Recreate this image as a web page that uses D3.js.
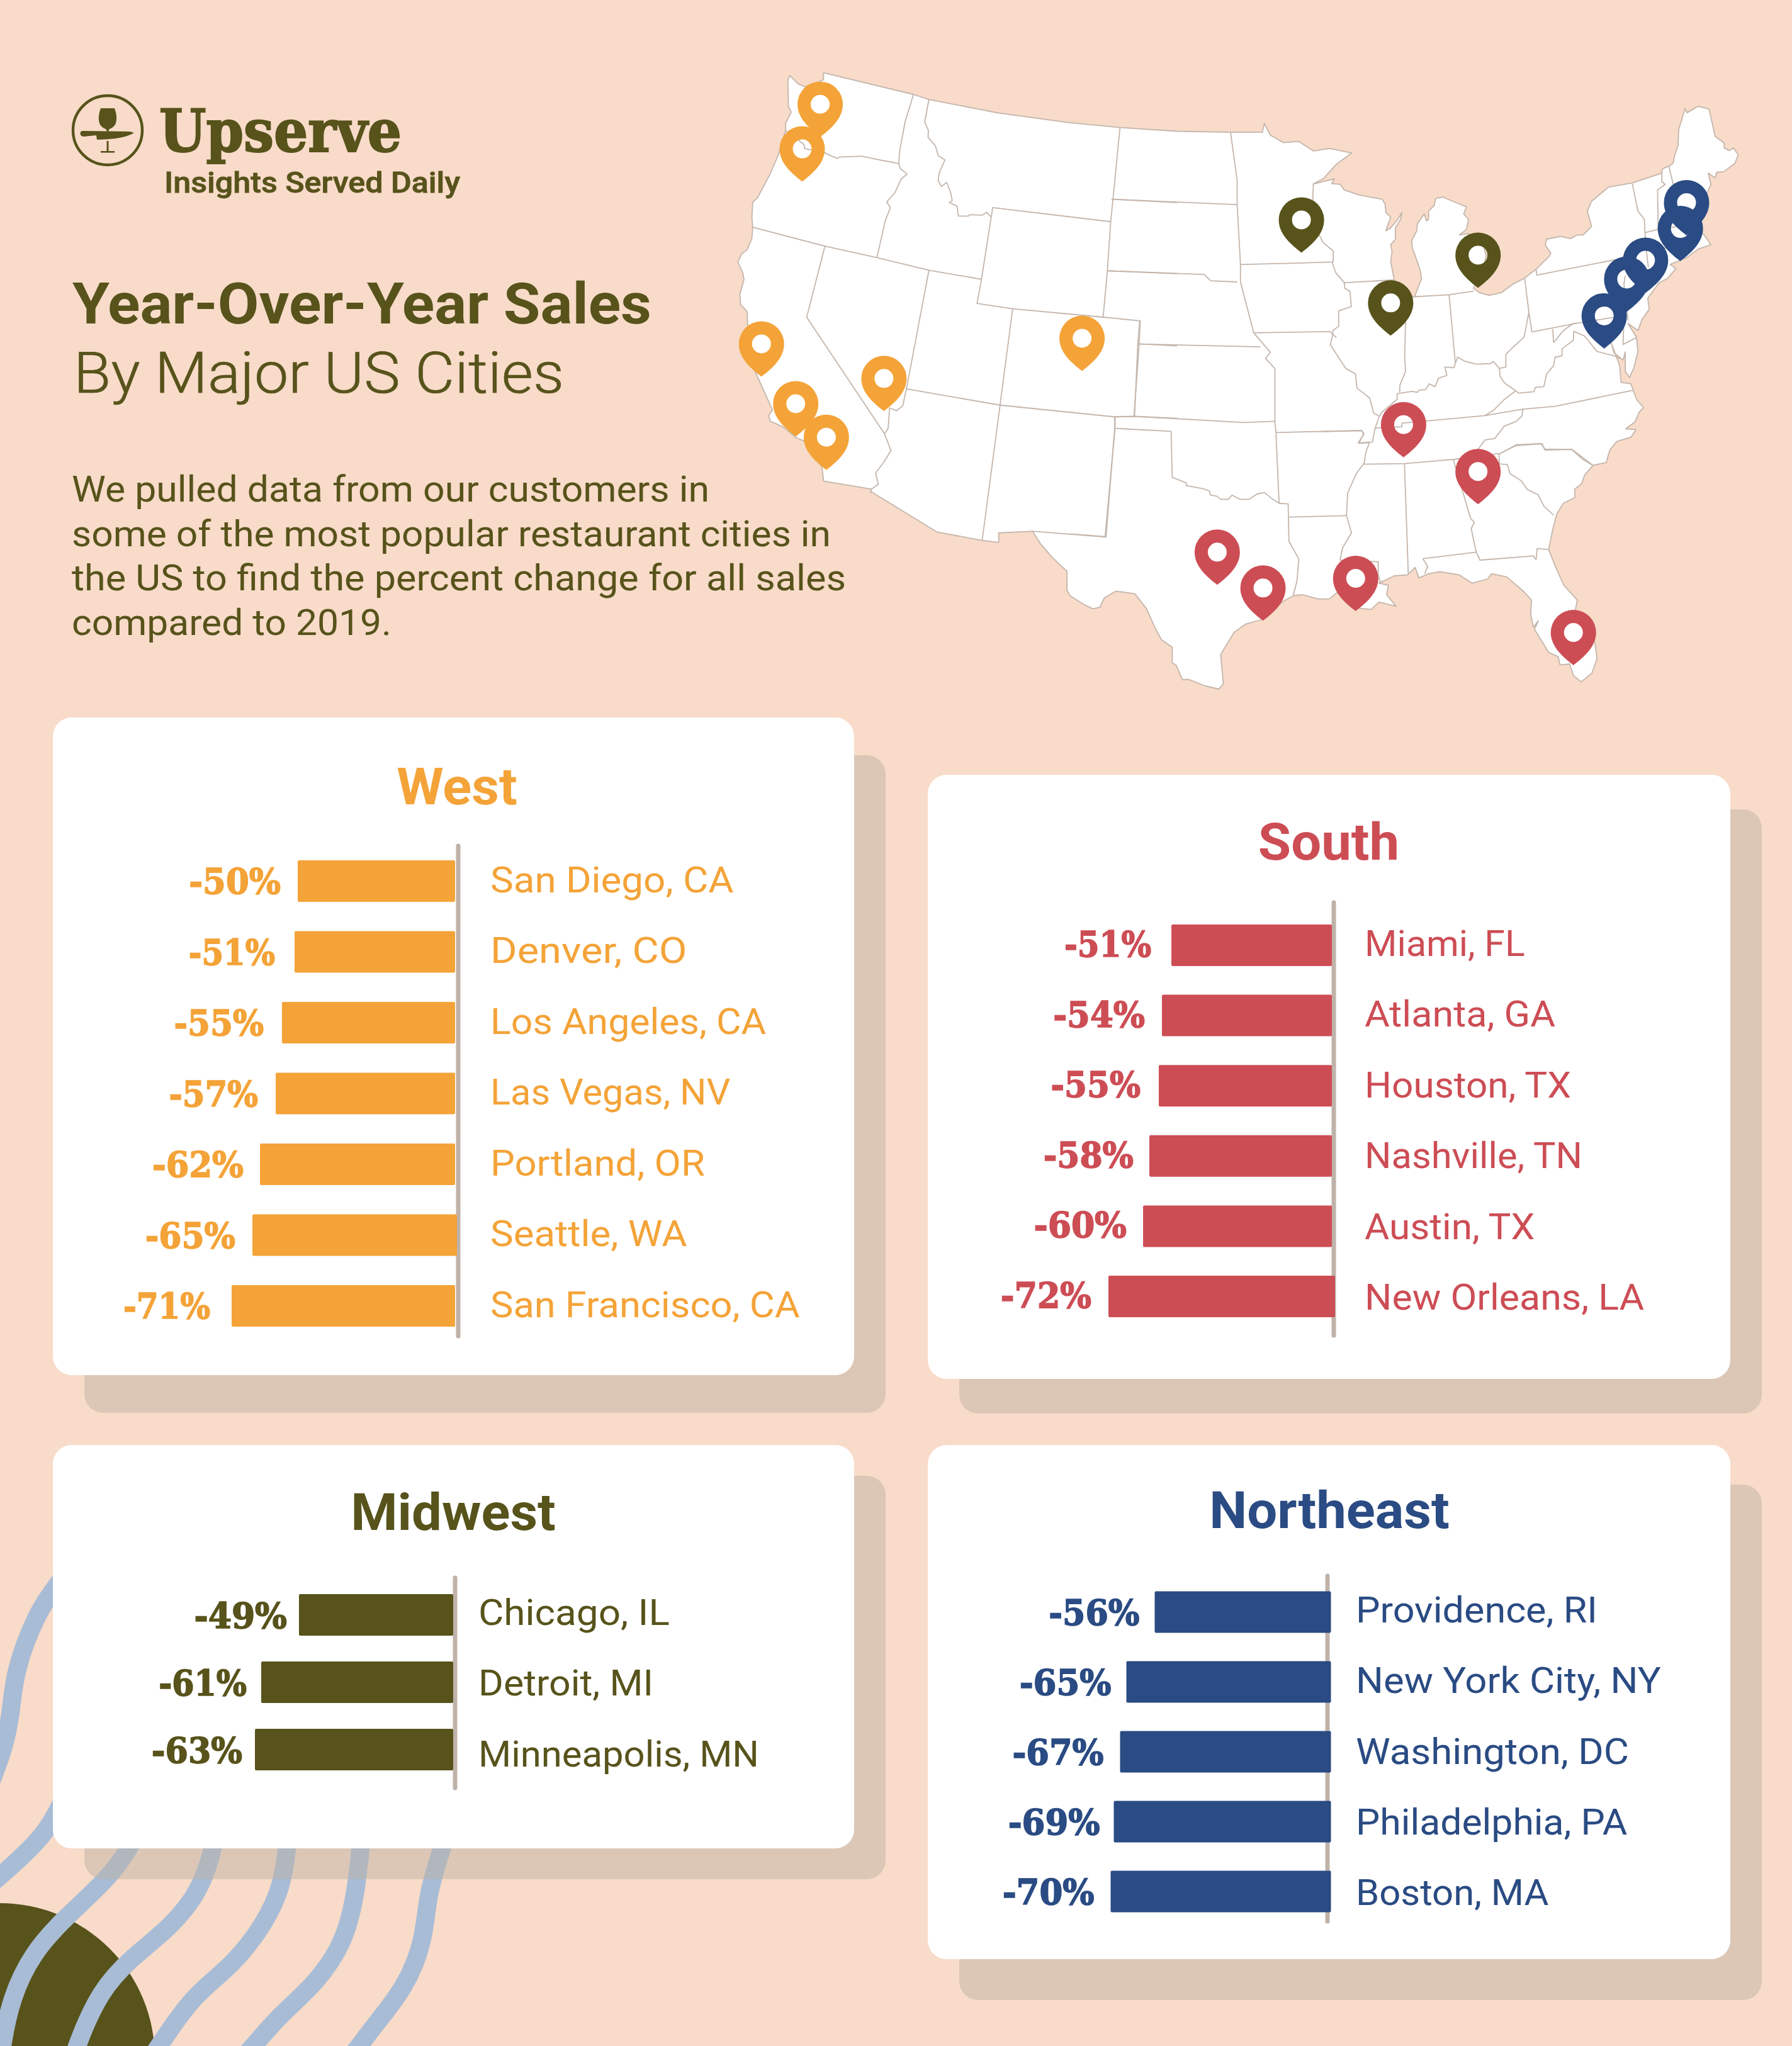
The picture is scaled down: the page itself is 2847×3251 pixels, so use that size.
<!DOCTYPE html>
<html>
<head>
<meta charset="utf-8">
<title>Year-Over-Year Sales</title>
<script src="https://cdnjs.cloudflare.com/ajax/libs/d3/7.8.5/d3.min.js"></script>
<style>
  html, body { margin: 0; padding: 0; background: #f8dbc9; }
  svg { display: block; }
  text { font-family: Roboto, sans-serif; }
  .pct { font-family: "DejaVu Serif Condensed", "DejaVu Serif", serif; font-weight: 700; }
</style>
</head>
<body>
<svg id="chart" width="2847" height="3251"></svg>
<script>
// values
var westCities = ['San Diego, CA', 'Denver, CO', 'Los Angeles, CA', 'Las Vegas, NV', 'Portland, OR', 'Seattle, WA', 'San Francisco, CA'];
var westValues = [-50, -51, -55, -57, -62, -65, -71];
var southCities = ['Miami, FL', 'Atlanta, GA', 'Houston, TX', 'Nashville, TN', 'Austin, TX', 'New Orleans, LA'];
var southValues = [-51, -54, -55, -58, -60, -72];
var midwestCities = ['Chicago, IL', 'Detroit, MI', 'Minneapolis, MN'];
var midwestValues = [-49, -61, -63];
var northeastCities = ['Providence, RI', 'New York City, NY', 'Washington, DC', 'Philadelphia, PA', 'Boston, MA'];
var northeastValues = [-56, -65, -67, -69, -70];

var introLines = [
  'We pulled data from our customers in',
  'some of the most popular restaurant cities in',
  'the US to find the percent change for all sales',
  'compared to 2019.'
];

// pins, in draw order: [region, traced sheet, x, y of the hole]
var pinPlaces = [
  ['West', 'W', 298, 147], ['West', 'W', 234, 306], ['West', 'W', 89, 1000], ['West', 'W', 525, 1123],
  ['West', 'W', 211, 1213], ['West', 'W', 320, 1332], ['West', 'W', 1230, 980],
  ['Midwest', 'M', 872, 395], ['Midwest', 'E', 245, 787], ['Midwest', 'E', 556, 617],
  ['South', 'E', 291, 1220], ['South', 'E', 556, 1387], ['South', 'S', 386, 682], ['South', 'S', 506, 853],
  ['South', 'S', 749, 807], ['South', 'S', 1320, 1065],
  ['Northeast', 'E', 1298, 430], ['Northeast', 'E', 1276, 522], ['Northeast', 'E', 1152, 635],
  ['Northeast', 'E', 1085, 702], ['Northeast', 'E', 1005, 833]
];

// map outline, traced piece by piece
var coast = [
  ['W', [[310,35],[630,112],[685,130],[930,178],[1180,212],[1365,230],[1568,243]]],
  ['M', [[765,183],[813,183],[816,162],[825,190],[845,208],[868,205],[890,228],[915,222],[948,233],[925,260],[905,295],[890,308]]],
  ['E', [[45,345],[35,362],[65,365],[80,385],[130,402],[180,412],[215,418],[225,435],[228,465],[245,482],[228,530],[245,520],[270,490],[285,465],[280,490],[262,520],[262,560],[245,580],[250,605],[245,640],[258,705],[270,750],[300,765],[330,765],[355,700],[350,670],[322,590],[320,565],[338,530],[340,505],[365,470],[372,495],[380,490],[380,460],[400,440],[405,415],[430,410],[465,425],[515,445],[505,470],[522,490],[515,525],[490,545],[520,540],[570,560],[585,620],[570,680],[540,735],[560,750],[595,760],[640,750],[680,720],[720,700],[765,665],[810,620],[815,610],[795,580],[800,560],[850,550],[885,558],[910,545],[930,545],[960,515],[945,460],[960,425],[1020,375],[1105,360],[1210,325],[1212,310],[1235,300],[1250,290],[1255,265],[1268,225],[1270,170],[1293,95],[1300,110],[1340,87],[1378,97],[1400,195],[1432,218],[1432,235],[1450,245],[1465,235],[1482,260],[1470,290],[1430,320],[1405,322],[1400,342],[1375,325],[1385,365],[1350,440],[1340,520],[1360,545],[1385,580],[1340,595],[1300,625],[1240,650],[1260,665],[1230,700],[1200,715],[1160,770],[1165,810],[1140,845],[1125,885],[1090,860],[1120,910],[1125,960],[1110,1020],[1095,1052],[1080,1030],[1080,962],[1072,990],[1040,965],[1030,930],[1060,1010],[1065,1070],[1100,1075],[1120,1130],[1145,1160],[1130,1175],[1115,1210],[1082,1235],[1118,1238],[1100,1265],[1050,1280],[1025,1310],[1012,1355],[965,1365],[935,1400],[925,1430],[900,1450],[900,1480],[860,1500],[835,1540]]],
  ['S', [[1275,510],[1265,580],[1255,670],[1275,760],[1295,840],[1330,910],[1325,960],[1375,1100],[1382,1190],[1368,1260],[1340,1300],[1320,1270],[1310,1215],[1285,1220],[1280,1180],[1255,1160],[1218,1050],[1228,1010],[1215,1040],[1208,980],[1210,910],[1190,870],[1145,800],[1105,785],[1095,810],[1055,830],[1020,790],[970,775],[940,785],[915,805],[905,755],[885,790],[850,795],[810,830],[835,840],[830,885],[855,940],[810,920],[790,955],[760,950],[700,875],[680,905],[650,905],[610,885],[585,890],[560,915],[500,1005],[460,1025],[430,1065],[395,1170],[402,1310],[390,1335],[355,1320],[310,1288],[295,1290],[278,1220],[268,1210],[268,1135],[240,1100],[225,1050],[200,950],[170,880],[120,868],[90,900],[78,945],[60,952],[40,935],[0,890]]],
  ['M', [[518,1290],[518,1245],[495,1210],[478,1178],[466,1148],[415,1152],[415,1175],[390,1170],[322,1150],[222,1052]]],
  ['W', [[478,1530],[480,1517],[310,1488],[305,1440],[240,1345],[215,1335],[165,1295],[120,1275],[115,1255],[128,1235],[90,1150],[65,1095],[40,935],[38,885],[15,860],[12,825],[27,770],[22,745],[5,710],[18,680],[38,665],[55,625],[58,585],[55,550],[58,495],[75,480],[120,395],[150,325],[175,240],[175,215],[195,175],[185,155],[183,60],[190,45],[220,75],[245,85],[310,60]]]
];

var stateLines = [
  ['W', [[175,240],[240,290],[243,305],[315,320],[335,330],[360,340],[365,335],[445,332],[510,345],[578,358]]],
  ['W', [[630,112],[600,210],[580,320],[578,358],[582,375],[607,395],[585,415],[565,460],[535,495],[548,515],[530,560],[500,693]]],
  ['W', [[685,130],[670,210],[683,240],[682,265],[708,295],[718,330],[742,345],[722,390],[718,420],[730,440],[748,425],[762,460],[768,490],[758,497],[785,510],[790,545],[825,545],[830,540],[875,542],[890,532],[905,547]]],
  ['W', [[1365,230],[1340,485],[1332,565],[1320,740],[1305,905]]],
  ['W', [[1332,565],[912,515],[872,770],[856,856],[983,875],[1305,905],[1437,918],[1433,1000],[1415,1258]]],
  ['W', [[58,585],[315,652],[500,693],[685,738],[872,770]]],
  ['W', [[315,652],[250,905],[527,1320],[550,1380],[525,1420],[495,1460],[505,1500],[480,1517]]],
  ['W', [[527,1320],[540,1300],[545,1228],[570,1238],[592,1220],[605,1160],[685,738]]],
  ['W', [[605,1160],[938,1218],[1348,1260],[1415,1258],[1568,1265]]],
  ['W', [[983,875],[938,1218]]],
  ['W', [[1340,485],[1568,497]]],
  ['W', [[1320,740],[1568,750]]],
  ['W', [[1433,1000],[1568,1007]]],
  ['M', [[417,843],[390,1170]]],
  ['M', [[590,871],[590,900],[577,1162],[466,1148]]],
  ['M', [[590,871],[620,870],[785,885],[832,882]]],
  ['M', [[628,638],[625,695],[620,870]]],
  ['M', [[625,695],[810,702]]],
  ['M', [[585,345],[775,358]]],
  ['M', [[580,518],[725,527],[735,542],[775,545]]],
  ['M', [[765,183],[775,300],[775,358],[780,503],[780,545],[800,668],[825,715],[818,730],[832,755],[832,882]]],
  ['M', [[800,668],[915,665],[925,680]]],
  ['M', [[780,503],[920,497]]],
  ['M', [[890,308],[888,400],[905,450],[920,470],[920,497]]],
  ['S', [[118,38],[118,92],[92,608],[0,595]]],
  ['S', [[118,92],[265,106],[268,325],[305,352],[305,365],[350,380],[365,390],[368,410],[385,415],[395,430],[415,430],[425,410],[445,430],[470,430],[490,405],[510,398],[530,428],[550,450],[572,452],[574,630],[600,715],[595,820],[585,890]]],
  ['S', [[537,57],[540,112],[548,440],[550,450]]],
  ['S', [[540,112],[765,102],[770,120],[757,163],[785,160]]],
  ['S', [[573,515],[725,508]]],
  ['S', [[785,160],[775,210],[772,255],[768,265],[750,310],[728,400],[725,508],[738,590],[715,660],[708,720],[808,728],[808,790],[815,830]]],
  ['S', [[770,263],[877,260],[1005,240],[1125,212]]],
  ['S', [[877,260],[887,790]]],
  ['S', [[1005,240],[1050,520],[1060,540],[1052,570],[1065,682],[1075,720],[1215,700],[1222,718],[1225,665],[1255,670]]],
  ['S', [[925,713],[1065,682]]],
  ['S', [[925,713],[938,750],[930,785]]],
  ['S', [[1125,215],[1170,170],[1238,165],[1245,195],[1315,192],[1345,240],[1370,268]]],
  ['E', [[630,1325],[632,1360],[660,1362],[670,1395],[710,1420],[730,1450],[770,1470],[790,1510],[825,1542]]],
  ['E', [[715,1165],[712,1190],[690,1210],[650,1225],[615,1270],[580,1275],[555,1310],[530,1338]]],
  ['E', [[0,1245],[140,1242],[150,1252],[130,1285],[180,1282],[190,1232],[285,1228],[285,1215],[580,1188],[715,1165],[830,1155],[1108,1098]]],
  ['E', [[37,643],[50,680],[80,715],[82,735],[100,745],[105,800],[60,815],[60,870],[40,885],[37,910],[30,935],[85,1020],[120,1040],[125,1090],[170,1125],[185,1180],[205,1190],[190,1232]]],
  ['E', [[80,715],[258,705]]],
  ['E', [[300,765],[295,980],[298,1030],[278,1080],[277,1105]]],
  ['E', [[330,765],[453,758],[540,745]]],
  ['E', [[453,758],[475,1000]]],
  ['E', [[205,1190],[215,1175],[268,1130],[268,1110],[320,1102],[340,1105],[345,1098],[370,1095],[382,1075],[403,1085],[415,1055],[445,1045],[438,1015],[470,1018],[483,980],[510,995],[550,1005],[600,1003],[610,995],[632,1020],[635,1050],[650,1072],[690,1100],[650,1130],[610,1170],[580,1188]]],
  ['E', [[632,1020],[655,1015],[655,970],[675,950],[720,908],[737,820]]],
  ['E', [[722,700],[737,820],[748,890],[905,860],[1040,838],[1075,850],[1072,935],[1120,910]]],
  ['E', [[822,880],[825,928],[860,885],[895,860],[905,860]]],
  ['E', [[690,1100],[700,1108],[755,1103],[760,1088],[790,1085],[800,1040],[825,1010],[830,980],[855,975],[855,950],[895,920],[897,888],[935,905],[980,960],[1040,975],[1060,985]]],
  ['E', [[762,665],[765,688],[1060,630],[1160,670]]],
  ['E', [[1080,690],[1075,720],[1090,850]]],
  ['E', [[1105,362],[1125,460],[1148,490],[1150,537],[1155,600],[1162,660]]],
  ['E', [[1210,325],[1210,355],[1222,365],[1195,385],[1197,525]]],
  ['E', [[1235,300],[1252,370],[1270,515]]],
  ['E', [[1150,537],[1197,525],[1340,505]]],
  ['E', [[1155,600],[1240,590]]],
  ['E', [[630,1325],[690,1295],[780,1288],[795,1308],[890,1308],[965,1365]]]
];

// ribbons in the lower left corner
var ribbons = [
  [[300,60],[165,235],[115,300],[45,470],[35,590],[15,690],[-30,800]],
  [[260,720],[165,915],[110,975],[50,1030],[-60,1120]],
  [[470,860],[405,990],[335,1080],[197,1197],[102,1295],[35,1425],[5,1568],[-5,1660]],
  [[690,860],[665,990],[625,1110],[535,1218],[408,1310],[312,1405],[237,1568],[210,1660]],
  [[905,860],[895,990],[878,1100],[825,1210],[722,1335],[600,1420],[495,1568],[430,1660]],
  [[1135,860],[1123,990],[1108,1120],[1075,1260],[985,1385],[870,1478],[790,1568],[700,1660]],
  [[1420,860],[1376,990],[1330,1125],[1322,1255],[1265,1395],[1155,1520],[1120,1568],[1040,1660]]
];

var colors = { West: '#f4a338', South: '#cd4d55', Midwest: '#57531b', Northeast: '#2a4b83' };

var sheets = {
  W: { x: d3.scaleLinear([0, 1568], [1170, 1870]), y: d3.scaleLinear([0, 1568], [100, 800]) },
  E: { x: d3.scaleLinear([0, 1568], [2100, 2800]), y: d3.scaleLinear([0, 1568], [130, 830]) },
  S: { x: d3.scaleLinear([0, 1568], [1700, 2650]), y: d3.scaleLinear([0, 1410], [650, 1120]) },
  M: { x: d3.scaleLinear([0, 1568], [1150, 2800]), y: d3.scaleLinear([0, 1568], [90, 1120]) },
  Z: { x: d3.scaleLinear([0, 1568], [0, 800]), y: d3.scaleLinear([0, 1568], [2400, 3251]) }
};

function toPixels(sheet, pts) {
  return pts.map(function(p) { return [sheets[sheet].x(p[0]), sheets[sheet].y(p[1])]; });
}

var svg = d3.select('#chart');
var ink = colors.Midwest;

svg.append('rect').attr('width', 2847).attr('height', 3251).attr('fill', '#f8dbc9');

// olive half disc and ribbons
svg.append('circle').attr('cx', 0).attr('cy', 3270).attr('r', 246).attr('fill', ink);

var ribbonLine = d3.line().curve(d3.curveBasis);
svg.selectAll('.ribbon').data(ribbons).enter().append('path')
  .attr('class', 'ribbon')
  .attr('d', function(d) { return ribbonLine(toPixels('Z', d)); })
  .attr('fill', 'none')
  .attr('stroke', '#a8bcd6')
  .attr('stroke-width', 29);

// map
var outline = [];
coast.forEach(function(c) { outline = outline.concat(toPixels(c[0], c[1])); });
var mapLine = d3.line();
var mapG = svg.append('g');
mapG.append('path')
  .attr('d', mapLine(outline) + 'Z')
  .attr('fill', '#fff').attr('stroke', '#c4b6ac').attr('stroke-width', 1.8).attr('stroke-linejoin', 'round');
mapG.selectAll('.state').data(stateLines).enter().append('path')
  .attr('class', 'state')
  .attr('d', function(d) { return mapLine(toPixels(d[0], d[1])); })
  .attr('fill', 'none').attr('stroke', '#c4b6ac').attr('stroke-width', 1.8).attr('stroke-linejoin', 'round');

// real cut-out hole: the map shows through the pin
var pinPath = 'M-36,0A36,36 0 0 1 36,0C36,22 18,38 0,52C-18,38 -36,22 -36,0Z' +
  'M-15,0A15,15 0 1 0 15,0A15,15 0 1 0 -15,0Z';
svg.selectAll('.pin').data(pinPlaces).enter().append('path')
  .attr('class', 'pin')
  .attr('d', pinPath)
  .attr('fill-rule', 'evenodd')
  .attr('fill', function(d) { return colors[d[0]]; })
  .attr('transform', function(d) {
    return 'translate(' + sheets[d[1]].x(d[2]) + ',' + sheets[d[1]].y(d[3]) + ')';
  });

// logo
var logo = svg.append('g').attr('transform', 'translate(171,207)').attr('fill', ink);
logo.append('circle').attr('r', 55).attr('fill', 'none').attr('stroke', ink).attr('stroke-width', 4.4);
logo.append('path').attr('d', 'M-11,-35L11,-35C15,-24 15,-15 12,-9C9,-4 4,-3 2,-1L1.5,2L-1.5,2L-2,-1C-4,-3 -9,-4 -12,-9C-15,-15 -15,-24 -11,-35Z');
logo.append('path').attr('d', 'M-40,1L35,2L42,4C30,11 16,14 -17,15L-18,8L-38,10C-45,10 -45,1 -40,1Z');
logo.append('rect').attr('x', -1.5).attr('y', 17).attr('width', 3).attr('height', 17);
logo.append('rect').attr('x', -11).attr('y', 33).attr('width', 22).attr('height', 2.6);

function headline(str, x, y, size, weight, width, family, thicken) {
  var t = svg.append('text').text(str)
    .attr('x', x).attr('y', y)
    .attr('font-size', size).attr('font-weight', weight)
    .attr('fill', ink);
  if (family) t.attr('class', family);
  if (width) t.attr('textLength', width).attr('lengthAdjust', 'spacingAndGlyphs');
  if (thicken) t.attr('stroke', ink).attr('stroke-width', thicken);
  return t;
}

headline('Upserve', 253, 241, 94, 700, 385, 'pct', 2);
headline('Insights Served Daily', 261, 306, 46, 500, 470, null, 0.8);
headline('Year-Over-Year Sales', 115, 514, 90, 700, 920);
headline('By Major US Cities', 117, 624, 90, 300, 779, null, 0.7);

var introWidths = [1013, 1206, 1230, 508];
introLines.forEach(function(line, i) {
  headline(line, 114, 797 + i * 70.7, 58, 400, introWidths[i]);
});

var cards = [
  { name: 'West', cities: westCities, values: westValues,
    box: [84, 1140, 1273, 1045], shadow: [134, 1200, 1273, 1045],
    titleX: 726, titleY: 1278, axisX: 728, axisY: [1344, 2123],
    barRight: 723, barTop: 1367, barStep: 112.5, labelX: 779, labelY: [1418, 2092.5], pctDy: 20,
    nudge: { 'Seattle, WA': 3 },
    cityW: [443, 357, 503, 437, 390, 357, 565], pctW: [167, 157, 163, 162, 166, 164, 158], pctGap: [27, 31, 29, 28, 26, 27, 34] },
  { name: 'South', cities: southCities, values: southValues,
    box: [1474, 1231, 1275, 960], shadow: [1524, 1286, 1275, 960],
    titleX: 2111, titleY: 1366, axisX: 2119, axisY: [1434, 2122],
    barRight: 2116, barTop: 1469, barStep: 111.6, labelX: 2168, labelY: [1519, 2081], pctDy: 18,
    nudge: { 'New Orleans, LA': 5 },
    cityW: [290, 346, 375, 396, 308, 510], pctW: [158, 167, 163, 164, 169, 165], pctGap: [32, 27, 29, 25, 26, 27] },
  { name: 'Midwest', cities: midwestCities, values: midwestValues,
    box: [84, 2296, 1273, 641], shadow: [134, 2345, 1273, 641],
    titleX: 720, titleY: 2431, axisX: 723, axisY: [2507, 2841],
    barRight: 720, barTop: 2533, barStep: 107, labelX: 760, labelY: [2581.5, 2807], pctDy: 21,
    nudge: {},
    cityW: [347, 317, 512], pctW: [169, 160, 165], pctGap: [19, 23, 20] },
  { name: 'Northeast', cities: northeastCities, values: northeastValues,
    box: [1474, 2296, 1275, 817], shadow: [1524, 2359, 1275, 819],
    titleX: 2112, titleY: 2428, axisX: 2109, axisY: [2504, 3053],
    barRight: 2114.5, barTop: 2528.5, barStep: 111, labelX: 2154, labelY: [2578, 3027], pctDy: 20,
    nudge: {},
    cityW: [440, 557, 498, 495, 350], pctW: [165, 167, 166, 167, 167], pctGap: [24, 24, 26, 22, 26] }
];

cards.forEach(function(c) {
  var color = colors[c.name];
  var g = svg.append('g').attr('class', 'card');

  g.append('rect')
    .attr('x', c.shadow[0]).attr('y', c.shadow[1]).attr('width', c.shadow[2]).attr('height', c.shadow[3])
    .attr('rx', 30).attr('fill', '#bdb0a4').attr('fill-opacity', 0.475);
  g.append('rect')
    .attr('x', c.box[0]).attr('y', c.box[1]).attr('width', c.box[2]).attr('height', c.box[3])
    .attr('rx', 30).attr('fill', '#fff');

  g.append('text').text(c.name)
    .attr('x', c.titleX).attr('y', c.titleY)
    .attr('text-anchor', 'middle')
    .attr('font-size', 81).attr('font-weight', 700)
    .attr('fill', color)
    .each(function() {
      d3.select(this).attr('textLength', this.getComputedTextLength() * 1.05).attr('lengthAdjust', 'spacingAndGlyphs');
    });

  var x = d3.scaleLinear().domain([0, -100]).range([c.barRight, c.barRight - 500]);
  var y = d3.scaleBand().domain(c.cities)
    .range([c.barTop, c.barTop + (c.cities.length - 1) * c.barStep + 66])
    .paddingInner(1 - 66 / c.barStep).paddingOuter(0);
  var cityY = d3.scalePoint().domain(c.cities).range(c.labelY);
  var rows = c.cities.map(function(city, i) {
    return { city: city, value: c.values[i], cityW: c.cityW[i] / 1.161 + 5, pctW: c.pctW[i] / 1.161 + 2, gap: c.pctGap[i] };
  });

  g.append('line')
    .attr('x1', c.axisX).attr('x2', c.axisX).attr('y1', c.axisY[0]).attr('y2', c.axisY[1])
    .attr('stroke', '#bfb2a9').attr('stroke-width', 7).attr('stroke-linecap', 'round');

  function shift(d) { return c.nudge[d.city] || 0; }

  g.selectAll('.bar').data(rows).enter().append('rect')
    .attr('class', 'bar')
    .attr('x', function(d) { return x(d.value) + shift(d); })
    .attr('y', function(d) { return y(d.city); })
    .attr('width', function(d) { return x(0) - x(d.value); })
    .attr('height', y.bandwidth())
    .attr('rx', 2)
    .attr('fill', color);

  g.selectAll('.pct').data(rows).enter().append('text')
    .attr('class', 'pct')
    .text(function(d) { return d.value + '%'; })
    .attr('x', function(d) { return x(d.value) + shift(d) - d.gap; })
    .attr('y', function(d) { return y(d.city) + y.bandwidth() / 2 + c.pctDy; })
    .attr('text-anchor', 'end')
    .attr('font-size', 56)
    .attr('fill', color)
    .attr('stroke', color)
    .attr('stroke-width', 1.5)
    .attr('textLength', function(d) { return d.pctW; })
    .attr('lengthAdjust', 'spacingAndGlyphs');

  g.selectAll('.city').data(rows).enter().append('text')
    .attr('class', 'city')
    .text(function(d) { return d.city; })
    .attr('x', c.labelX)
    .attr('y', function(d) { return cityY(d.city); })
    .attr('font-size', 57)
    .attr('fill', color)
    .attr('textLength', function(d) { return d.cityW; })
    .attr('lengthAdjust', 'spacingAndGlyphs');
});
</script>
</body>
</html>
